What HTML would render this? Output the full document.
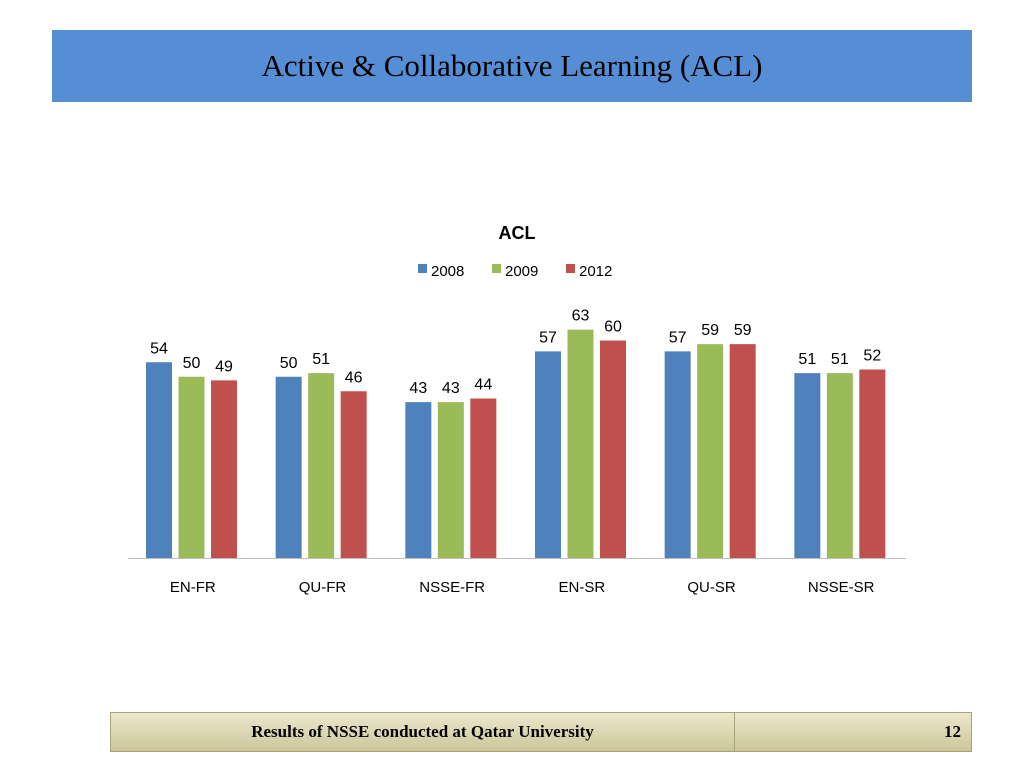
<!DOCTYPE html>
<html><head><meta charset="utf-8"><style>
body{margin:0;width:1024px;height:768px;background:#fff;position:relative;overflow:hidden;font-family:"Liberation Sans",sans-serif}
#banner{position:absolute;left:52px;top:30px;width:920px;height:72px;background:#558ed5;display:flex;align-items:center;justify-content:center;font-family:"Liberation Serif",serif;font-size:31px;color:#000}
#footer{position:absolute;left:110px;top:712px;width:862px;height:40px;background:linear-gradient(#ece8cc,#ccc69a);border:1px solid #a8a27a;box-sizing:border-box;font-family:"Liberation Serif",serif;font-weight:bold;font-size:17px}
</style></head><body>
<div id="banner">Active &amp; Collaborative Learning (ACL)</div>
<svg id="chart" width="1024" height="768" style="position:absolute;left:0;top:0"></svg>
<div id="footer">
<div style="position:absolute;left:0;width:623px;top:9px;text-align:center">Results of NSSE conducted at Qatar University</div>
<div style="position:absolute;left:623px;top:0;width:1px;height:38px;background:#a8a27a"></div>
<div style="position:absolute;right:10px;top:9px">12</div>
</div>
<script>
const categories=["EN-FR","QU-FR","NSSE-FR","EN-SR","QU-SR","NSSE-SR"];
const series=["2008","2009","2012"];
const colors=["#4f81bd","#9bbb59","#c0504d"];
const values=[[54,50,50,43,57,57,51],[50,51,43,63,59,51],[49,46,44,60,59,52]];
values[0]=[54,50,43,57,57,51];
const NS="http://www.w3.org/2000/svg";
const svg=document.getElementById('chart');
const x0=128,x1=906,y0=558,ppu=3.625;
const gw=(x1-x0)/categories.length;
const yScale=v=>y0-v*ppu;
function mk(t,a,txt){const e=document.createElementNS(NS,t);for(const k in a)e.setAttribute(k,a[k]);if(txt!=null)e.textContent=txt;svg.appendChild(e);return e;}
let t=mk('text',{x:517,y:239,'text-anchor':'middle','font-size':18,'font-weight':'bold'},'ACL');


const lx=[418,492,566];
series.forEach((s,i)=>{
 let r=mk('rect',{x:lx[i],y:264,width:9,height:9,fill:colors[i]});
 
 
 let l=mk('text',{x:lx[i]+13,y:276,'font-size':15},s);
 
 
});
let ax=mk('line',{x1:x0,y1:y0+0.5,x2:x1,y2:y0+0.5,stroke:'#bfbfbf'});


categories.forEach((c,ci)=>{
 const gx=x0+gw*ci;
 series.forEach((s,si)=>{
  const v=values[si][ci];
  const bx=gx+18+si*32.5;
  const b=mk('rect',{x:bx,y:yScale(v),width:26,height:y0-yScale(v),fill:colors[si]});
  
  
  const lb=mk('text',{x:bx+13,y:yScale(v)-9,'text-anchor':'middle','font-size':16},v);
  
  
 });
 const cl=mk('text',{x:gx+gw/2,y:592,'text-anchor':'middle','font-size':15},c);
 
 
});
</script>
</body></html>
